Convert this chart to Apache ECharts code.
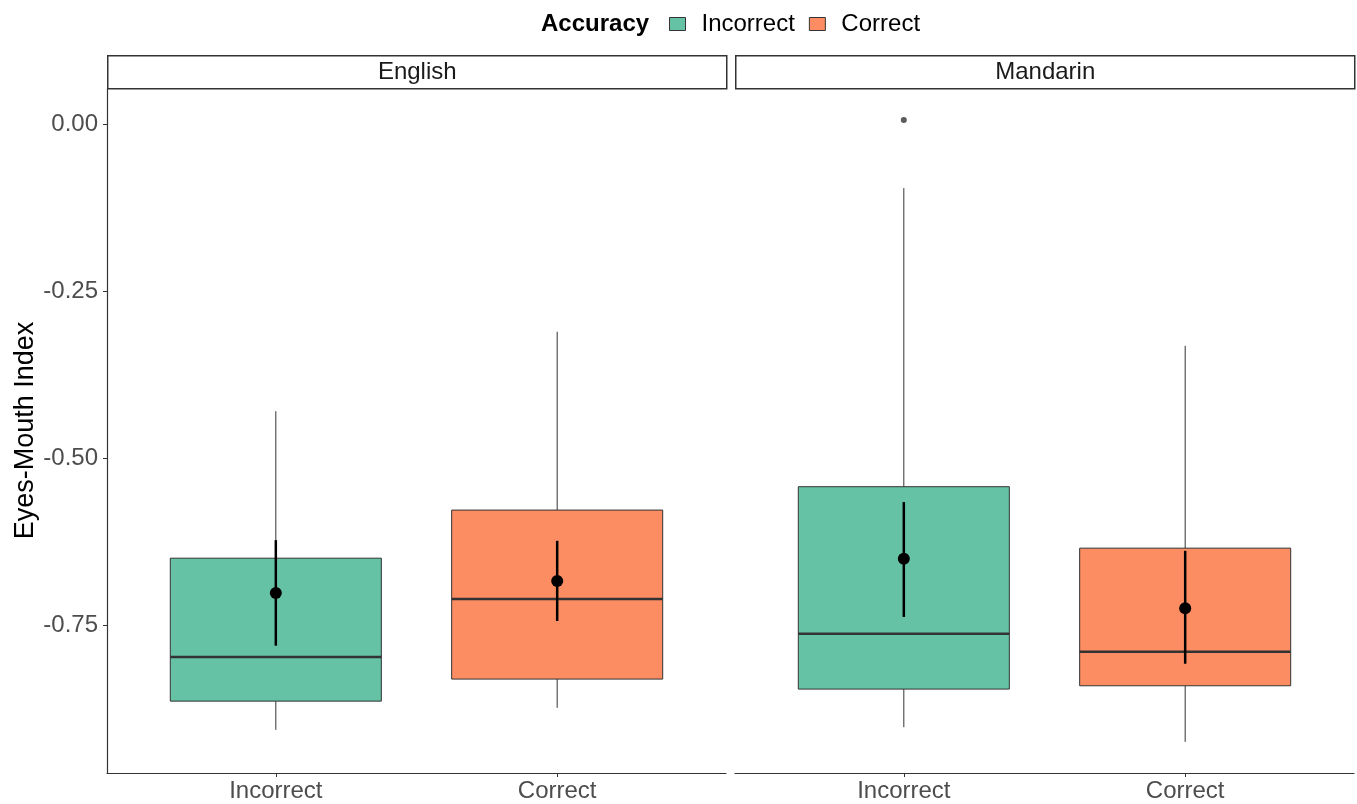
<!DOCTYPE html>
<html>
<head>
<meta charset="utf-8">
<script src="https://cdn.jsdelivr.net/npm/echarts@6/dist/echarts.min.js"></script>
<style>html,body{margin:0;padding:0;background:#fff}#c{width:1357px;height:804px}</style>
</head>
<body>
<div id="c"></div>
<script>
// ---- data ----
const panels = ['English', 'Mandarin'];
const categories = ['Incorrect', 'Correct'];
const yTicks = [-0.75, -0.5, -0.25, 0];
// [lowWhisker, Q1, median, Q3, highWhisker]
const englishIncorrectBox = [-0.907, -0.864, -0.798, -0.650, -0.430];
const englishCorrectBox   = [-0.874, -0.831, -0.711, -0.578, -0.311];
const mandarinIncorrectBox = [-0.903, -0.846, -0.763, -0.543, -0.096];
const mandarinCorrectBox   = [-0.925, -0.841, -0.790, -0.635, -0.332];
// [mean, lower, upper]
const englishIncorrectMean = [-0.702, -0.781, -0.623];
const englishCorrectMean   = [-0.684, -0.744, -0.624];
const mandarinIncorrectMean = [-0.651, -0.738, -0.566];
const mandarinCorrectMean   = [-0.725, -0.808, -0.639];
// outliers
const mandarinIncorrectOutliers = [0.006];

const colors = {Incorrect: '#66C2A5', Correct: '#FC8D62'};
const Y_MIN = -0.9716, Y_MAX = 0.0539;

function row(x, box, mean) { return [x].concat(box, mean); }

function renderBox(color) {
  return function (params, api) {
    const x = api.value(0);
    const pLow = api.coord([x, api.value(1)]);
    const pQ1 = api.coord([x, api.value(2)]);
    const pMed = api.coord([x, api.value(3)]);
    const pQ3 = api.coord([x, api.value(4)]);
    const pHigh = api.coord([x, api.value(5)]);
    const pMean = api.coord([x, api.value(6)]);
    const pEL = api.coord([x, api.value(7)]);
    const pEH = api.coord([x, api.value(8)]);
    const w = api.size([0.75, 0])[0];
    const cx = pQ1[0];
    return {
      type: 'group',
      children: [
        {type: 'line', shape: {x1: cx, y1: pHigh[1], x2: cx, y2: pQ3[1]}, style: {stroke: '#333', lineWidth: 1}},
        {type: 'line', shape: {x1: cx, y1: pQ1[1], x2: cx, y2: pLow[1]}, style: {stroke: '#333', lineWidth: 1}},
        {type: 'rect', shape: {x: cx - w / 2, y: pQ3[1], width: w, height: pQ1[1] - pQ3[1]}, style: {fill: color, stroke: '#333', lineWidth: 1}},
        {type: 'line', shape: {x1: cx - w / 2, y1: pMed[1], x2: cx + w / 2, y2: pMed[1]}, style: {stroke: '#333', lineWidth: 2.5}},
        {type: 'line', shape: {x1: cx, y1: pEH[1], x2: cx, y2: pEL[1]}, style: {stroke: '#000', lineWidth: 2.5}},
        {type: 'circle', shape: {cx: cx, cy: pMean[1], r: 6}, style: {fill: '#000'}}
      ]
    };
  };
}

const chart = echarts.init(document.getElementById('c'));
const textColor = '#4D4D4D';
const font = 'Liberation Sans, Arial, sans-serif';

function xAxis(i) {
  return {
    type: 'value', gridIndex: i, min: 0.4, max: 2.6,
    splitLine: {show: false},
    axisLine: {show: true, onZero: false, lineStyle: {color: '#333', width: 1.2}},
    axisTick: {show: true, customValues: [1, 2], length: 4, lineStyle: {color: '#333'}},
    axisLabel: {show: true, customValues: [1, 2], color: textColor, fontSize: 24, fontFamily: font, margin: 6,
      formatter: v => categories[Math.round(v) - 1] || ''}
  };
}
function yAxis(i) {
  return {
    type: 'value', gridIndex: i, min: Y_MIN, max: Y_MAX,
    splitLine: {show: false},
    axisLine: {show: i === 0, onZero: false, lineStyle: {color: '#333', width: 1.2}},
    axisTick: {show: i === 0, customValues: yTicks, length: 4, lineStyle: {color: '#333'}},
    axisLabel: {show: i === 0, customValues: yTicks, color: textColor, fontSize: 24, fontFamily: font, margin: 9,
      formatter: v => v.toFixed(2)},
    name: i === 0 ? 'Eyes-Mouth Index' : '', nameLocation: 'middle', nameGap: 66, nameRotate: 90,
    nameTextStyle: {color: '#000', fontSize: 27, fontFamily: font}
  };
}

const strips = panels.map((p, i) => ({
  type: 'group', left: i === 0 ? 107 : 735, top: 55,
  children: [
    {type: 'rect', shape: {x: 0, y: 0, width: 619, height: 33}, style: {fill: '#fff', stroke: '#333', lineWidth: 1.5}},
    {type: 'text', x: 309.5, y: 17, style: {text: p, fill: '#1A1A1A', fontSize: 24, fontFamily: font, align: 'center', verticalAlign: 'middle'}}
  ]
}));

chart.setOption({
  animation: false,
  backgroundColor: '#fff',
  title: {text: 'Accuracy', left: 536, top: 7, textStyle: {fontSize: 24, fontWeight: 'bold', color: '#000', fontFamily: font}},
  legend: {
    left: 664, top: 7, itemGap: 14, itemWidth: 16, itemHeight: 13, icon: 'rect',
    data: categories,
    textStyle: {fontSize: 24, color: '#000', fontFamily: font, padding: [0, 0, 0, 11]},
    itemStyle: {borderColor: '#333', borderWidth: 1}
  },
  grid: [
    {left: 107, top: 88, width: 619, height: 685},
    {left: 735, top: 88, width: 619, height: 685}
  ],
  xAxis: [xAxis(0), xAxis(1)],
  yAxis: [yAxis(0), yAxis(1)],
  graphic: strips,
  series: [
    {type: 'custom', name: 'Incorrect', xAxisIndex: 0, yAxisIndex: 0, itemStyle: {color: colors.Incorrect},
      renderItem: renderBox(colors.Incorrect), encode: {x: 0, y: [1, 5]},
      data: [row(1, englishIncorrectBox, englishIncorrectMean)]},
    {type: 'custom', name: 'Correct', xAxisIndex: 0, yAxisIndex: 0, itemStyle: {color: colors.Correct},
      renderItem: renderBox(colors.Correct), encode: {x: 0, y: [1, 5]},
      data: [row(2, englishCorrectBox, englishCorrectMean)]},
    {type: 'custom', name: 'Incorrect', xAxisIndex: 1, yAxisIndex: 1, itemStyle: {color: colors.Incorrect},
      renderItem: renderBox(colors.Incorrect), encode: {x: 0, y: [1, 5]},
      data: [row(1, mandarinIncorrectBox, mandarinIncorrectMean)]},
    {type: 'custom', name: 'Correct', xAxisIndex: 1, yAxisIndex: 1, itemStyle: {color: colors.Correct},
      renderItem: renderBox(colors.Correct), encode: {x: 0, y: [1, 5]},
      data: [row(2, mandarinCorrectBox, mandarinCorrectMean)]},
    {type: 'scatter', name: 'outlier', xAxisIndex: 1, yAxisIndex: 1, symbolSize: 6,
      itemStyle: {color: '#333'}, data: mandarinIncorrectOutliers.map(v => [1, v])}
  ]
});
</script>
</body>
</html>
